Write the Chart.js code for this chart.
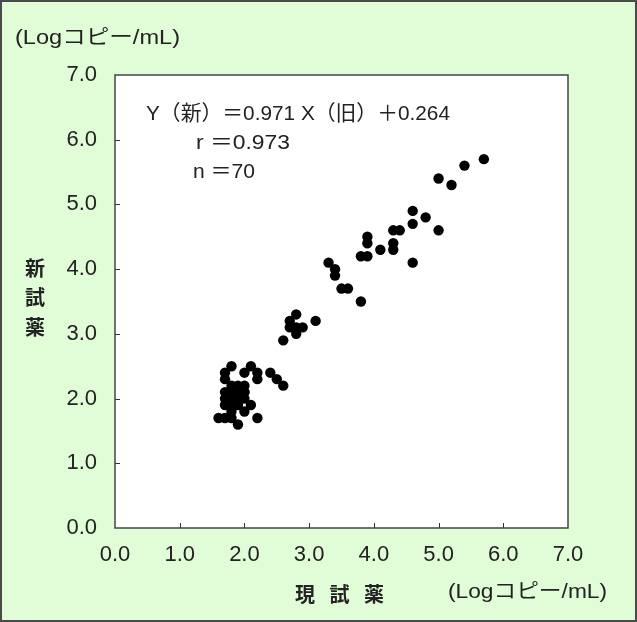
<!DOCTYPE html>
<html><head><meta charset="utf-8">
<script src="https://cdn.jsdelivr.net/npm/chart.js@4/dist/chart.umd.min.js"></script>
<style>html,body{margin:0;padding:0;background:#e0fdd8;}#wrap{width:637px;height:622px;}</style>
</head><body><div id="wrap"><canvas id="c" width="637" height="622"></canvas></div>
<script>
// current reagent (x) vs new reagent (y), Log copies/mL
const xOld = [5.7,5.4,5.0,5.2,4.6,4.8,4.6,5.0,4.3,4.4,3.9,3.9,4.3,4.1,4.3,3.8,3.9,4.6,3.3,3.4,3.4,3.5,3.6,3.8,2.8,2.7,3.1,2.7,2.8,2.9,2.8,2.6,
  1.8,2.1,1.7,2.0,2.2,2.4,1.7,2.2,2.5,1.8,1.9,2.0,2.6,1.7,1.8,1.9,2.0,1.8,1.7,1.8,1.9,2.0,1.7,1.8,2.1,1.9,1.8,2.0,1.6,1.7,1.8,2.2,1.9,1.8,1.9,1.8,1.9,2.0];
const yNew = [5.7,5.6,5.4,5.3,4.9,4.8,4.7,4.6,4.6,4.6,4.5,4.4,4.4,4.3,4.3,4.2,4.2,4.1,4.1,4.0,3.9,3.7,3.7,3.5,3.3,3.2,3.2,3.1,3.1,3.1,3.0,2.9,
  2.5,2.5,2.4,2.4,2.4,2.4,2.3,2.3,2.3,2.2,2.2,2.2,2.2,2.1,2.1,2.1,2.1,2.1,2.0,2.0,2.0,2.0,1.9,1.9,1.9,1.9,1.8,1.8,1.7,1.7,1.7,1.7,1.6,2.0,2.1,1.9,2.0,2.1];
const tickValues = [0,1,2,3,4,5,6,7];
const unitLabel = '(Logコピー/mL)';
const xTitle = ['現','試','薬'];
const yTitle = ['新','試','薬'];
const eqLines = ['Y（新）＝0.971 X（旧）＋0.264','r ＝0.973','n ＝70'];

const pts = xOld.map((x,i)=>({x:x,y:yNew[i]}));
const FONT = '"Liberation Sans","Noto Sans CJK JP",sans-serif';

function fitText(ctx,text,x,y,w){
  const m=ctx.measureText(text).width;
  ctx.save(); ctx.translate(x,y); ctx.scale(w/m,1); ctx.fillText(text,0,0); ctx.restore();
}

const deco = {
  id:'deco',
  beforeDraw(chart){
    const ctx=chart.ctx, a=chart.chartArea;
    ctx.save();
    ctx.fillStyle='#e0fdd8'; ctx.fillRect(0,0,637,622);
    ctx.strokeStyle='#4a4a4a'; ctx.lineWidth=2; ctx.strokeRect(1,1,635,620);
    ctx.fillStyle='#ffffff'; ctx.fillRect(a.left,a.top,a.right-a.left,a.bottom-a.top);
    ctx.restore();
  },
  afterDraw(chart){
    const ctx=chart.ctx, a=chart.chartArea, xs=chart.scales.x, ys=chart.scales.y;
    ctx.save();
    ctx.strokeStyle='#444'; ctx.lineWidth=1.5;
    ctx.strokeRect(a.left,a.top,a.right-a.left,a.bottom-a.top);
    ctx.lineWidth=1; ctx.strokeStyle='#333';
    tickValues.slice(1,-1).forEach(v=>{
      const px=Math.round(xs.getPixelForValue(v))+0.5;
      ctx.beginPath(); ctx.moveTo(px,a.bottom); ctx.lineTo(px,a.bottom-5); ctx.stroke();
      const py=Math.round(ys.getPixelForValue(v))+0.5;
      ctx.beginPath(); ctx.moveTo(a.left,py); ctx.lineTo(a.left+5,py); ctx.stroke();
    });
    ctx.fillStyle='#222';
    ctx.textBaseline='middle';
    ctx.font='20px '+FONT;
    ctx.textAlign='left';
    fitText(ctx,unitLabel,15,38,165);
    fitText(ctx,unitLabel,448,592,159);
    ctx.font='bold 20px "Noto Sans CJK JP",sans-serif';
    ctx.textAlign='center';
    xTitle.forEach((t,i)=>ctx.fillText(t,305+i*34.5,594));
    yTitle.forEach((t,i)=>ctx.fillText(t,35,268+i*29.5));
    ctx.font='21px '+FONT;
    ctx.textAlign='left';
    fitText(ctx,eqLines[0],146,114,304);
    fitText(ctx,eqLines[1],196,143,94);
    fitText(ctx,eqLines[2],193,172,62);
    ctx.restore();
  }
};

new Chart(document.getElementById('c'),{
  type:'scatter',
  data:{datasets:[{data:pts,backgroundColor:'#000',borderColor:'#000',pointRadius:5.2,pointHoverRadius:5.2,borderWidth:0}]},
  options:{
    responsive:false, animation:false, devicePixelRatio:1,
    layout:{padding:{left:0,top:75,right:69,bottom:0}},
    plugins:{legend:{display:false},tooltip:{enabled:false}},
    scales:{
      x:{type:'linear',min:0,max:7,
        afterBuildTicks:s=>{s.ticks=tickValues.map(v=>({value:v}));},
        afterFit:s=>{s.height=94;},
        grid:{display:false,drawTicks:false},border:{display:false},
        ticks:{padding:14,color:'#222',font:{size:22,family:FONT},callback:v=>Number(v).toFixed(1),maxRotation:0}},
      y:{type:'linear',min:0,max:7,
        afterBuildTicks:s=>{s.ticks=tickValues.map(v=>({value:v}));},
        afterFit:s=>{s.width=115;},
        grid:{display:false,drawTicks:false},border:{display:false},
        ticks:{padding:18,color:'#222',font:{size:22,family:FONT},callback:v=>Number(v).toFixed(1)}}
    }
  },
  plugins:[deco]
});
</script></body></html>
